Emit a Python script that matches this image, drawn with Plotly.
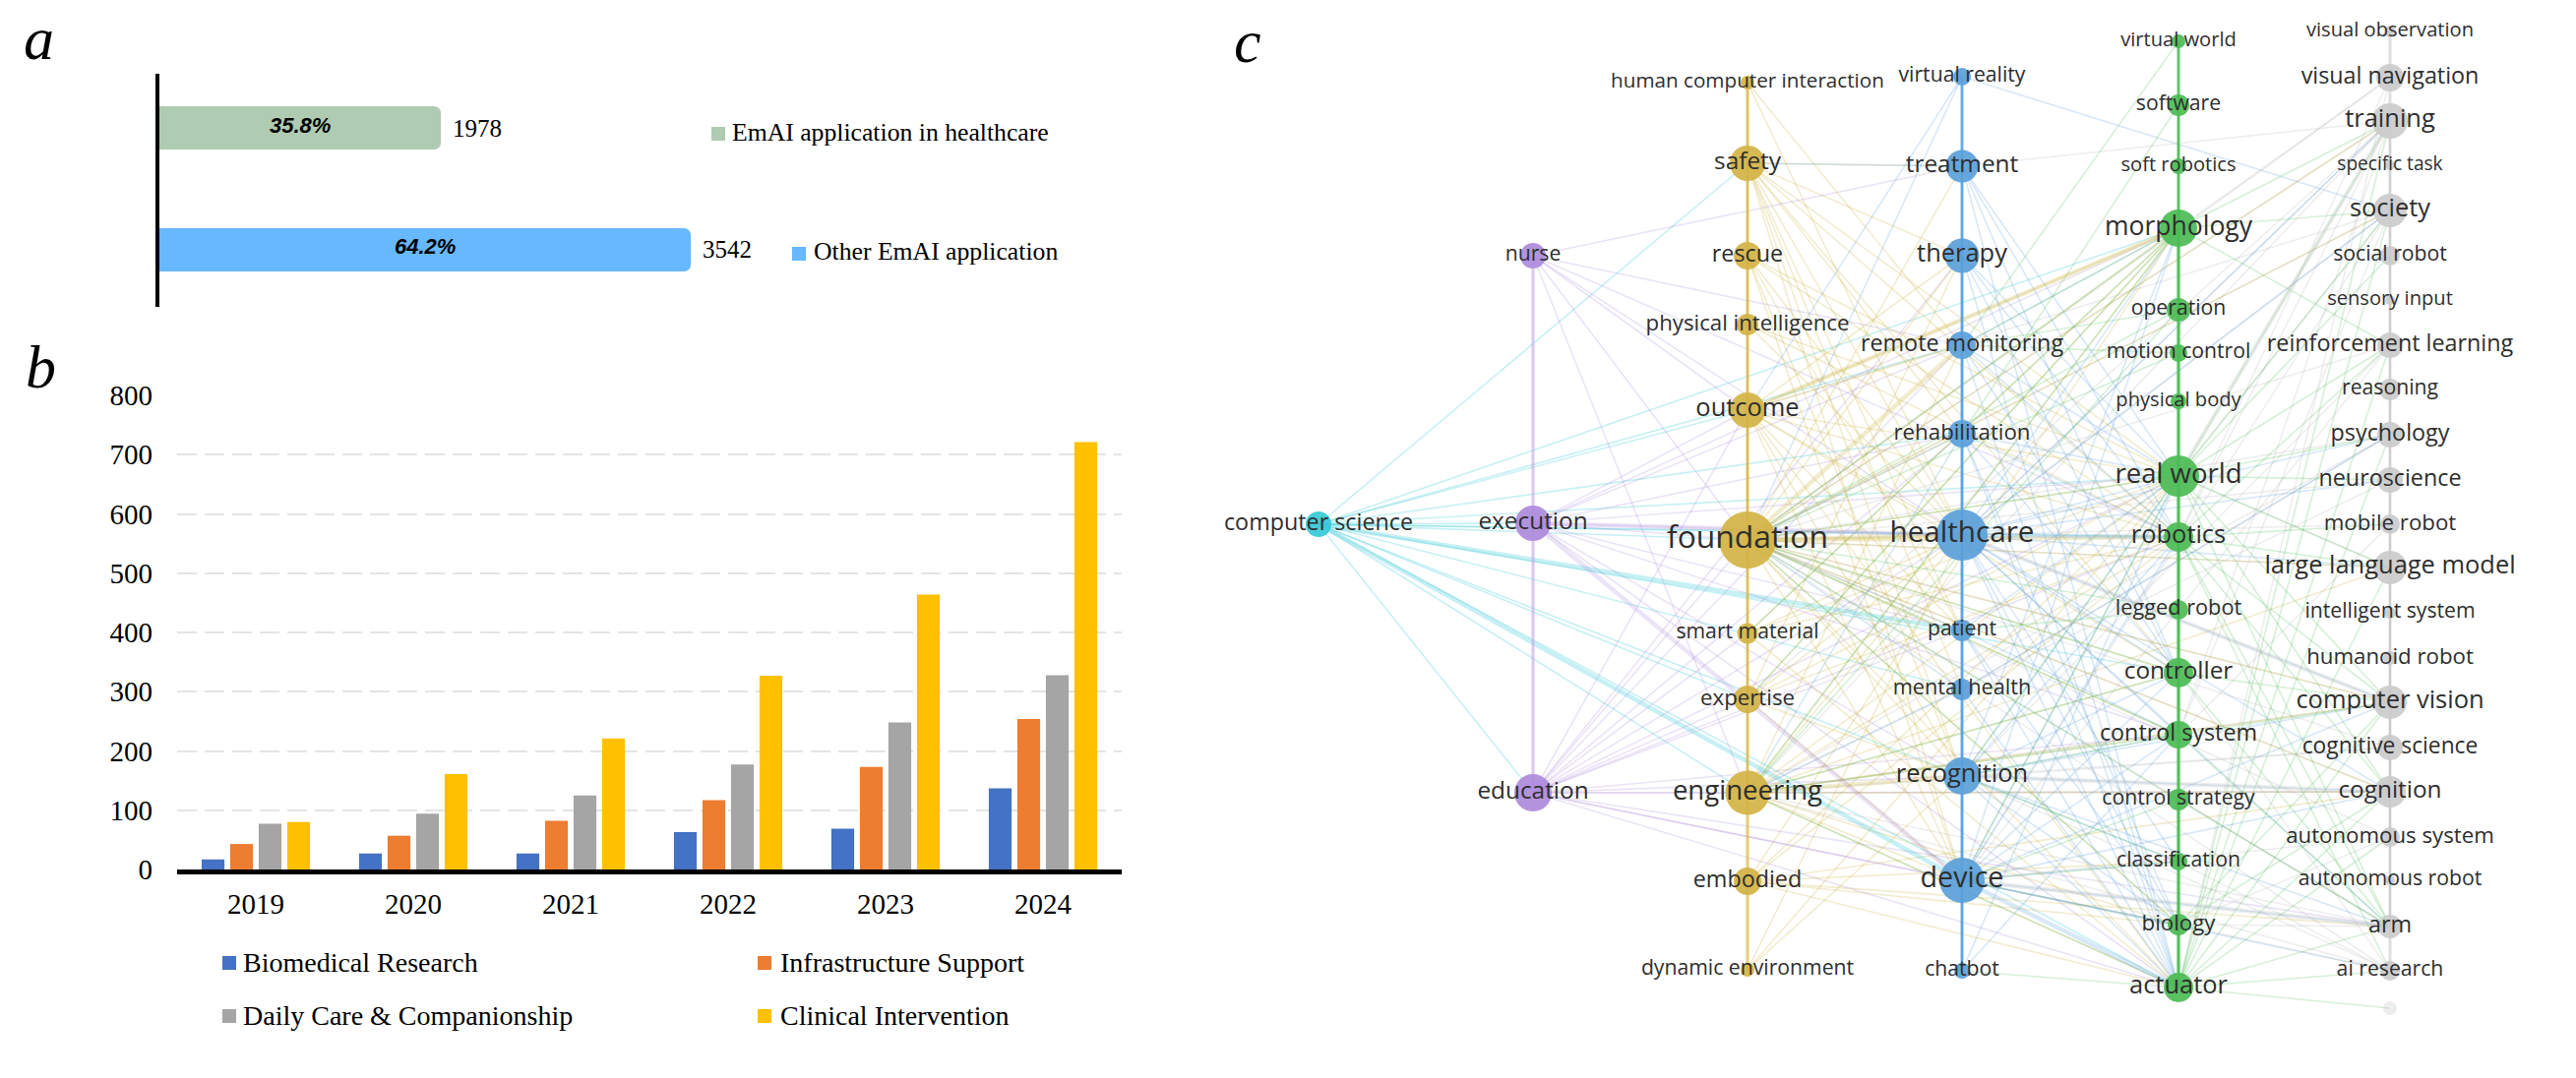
import plotly.graph_objects as go

W, H = 2618, 1096
SERIF = "Liberation Serif"

# ---- panel a
SHARE_NAMES = ["Other EmAI application", "EmAI application in healthcare"]
SHARE_COUNTS = [3542, 1978]
SHARE_PCT = ["64.2%", "35.8%"]
SHARE_COLORS = ["#66B8FF", "#AFCBB1"]

# ---- panel b
YEARS = ["2019", "2020", "2021", "2022", "2023", "2024"]
BIOMEDICAL = [17, 27, 27, 63, 69, 137]
INFRASTRUCTURE = [43, 57, 82, 117, 173, 254]
DAILY_CARE = [77, 94, 125, 177, 248, 328]
CLINICAL = [80, 161, 221, 327, 464, 721]
SERIES_NAMES = ["Biomedical Research", "Infrastructure Support", "Daily Care & Companionship", "Clinical Intervention"]
SERIES_COLORS = ["#4472C4", "#ED7D31", "#A5A5A5", "#FFC000"]

# ---- panel c: keyword network, one column per cluster
CYAN_NODES = ["computer science"]
CYAN_Y = [533]
CYAN_D = [26]
CYAN_F = [22]

PURPLE_NODES = ["nurse", "execution", "education"]
PURPLE_Y = [260, 532, 806]
PURPLE_D = [26, 36, 38]
PURPLE_F = [20, 23, 23]

YELLOW_NODES = ["human computer interaction", "safety", "rescue", "physical intelligence", "outcome", "foundation",
                "smart material", "expertise", "engineering", "embodied", "dynamic environment"]
YELLOW_Y = [84, 166, 260, 330, 417, 549, 644, 711, 806, 896, 986]
YELLOW_D = [14, 36, 28, 22, 36, 58, 21, 28, 45, 28, 14]
YELLOW_F = [19.5, 23, 22, 21, 24, 30, 20, 21, 26, 22, 20]

BLUE_NODES = ["virtual reality", "treatment", "therapy", "remote monitoring", "rehabilitation", "healthcare",
              "patient", "mental health", "recognition", "device", "chatbot"]
BLUE_Y = [78, 169, 260, 351, 441, 544, 641, 701, 789, 895, 987]
BLUE_D = [18, 33, 35, 28, 28, 52, 22, 22, 38, 46, 16]
BLUE_F = [20, 23, 24, 22, 21, 28, 20, 20.5, 24, 27, 20]

GREEN_NODES = ["virtual world", "software", "soft robotics", "morphology", "operation", "motion control",
               "physical body", "real world", "robotics", "legged robot", "controller", "control system",
               "control strategy", "classification", "biology", "actuator"]
GREEN_Y = [42, 107, 169, 232, 315, 359, 408, 484, 546, 620, 684, 747, 813, 876, 940, 1004]
GREEN_D = [14, 22, 16, 38, 24, 18, 16, 42, 30, 20, 30, 28, 22, 18, 22, 30]
GREEN_F = [19, 20, 19, 25, 20, 20, 19, 26, 24, 20.5, 23, 22, 20, 20, 21, 24]

GRAY_NODES = ["visual observation", "visual navigation", "training", "specific task", "society", "social robot",
              "sensory input", "reinforcement learning", "reasoning", "psychology", "neuroscience", "mobile robot",
              "large language model", "intelligent system", "humanoid robot", "computer vision", "cognitive science",
              "cognition", "autonomous system", "autonomous robot", "arm", "ai research", ""]
GRAY_Y = [32, 79, 123, 168, 214, 260, 305, 351, 396, 442, 488, 533, 577, 623, 669, 714, 760, 805, 851, 895, 942, 987, 1025]
GRAY_D = [12, 28, 36, 10, 34, 20, 10, 26, 22, 26, 26, 20, 34, 12, 14, 34, 26, 32, 20, 10, 24, 20, 14]
GRAY_F = [19, 22, 24, 18, 24, 20, 19, 22, 20, 22, 22, 21, 24, 20, 21, 24, 21.5, 23, 21, 20, 22, 20, 10]

CLUSTERS = [
    ("cyan", 1340, CYAN_NODES, CYAN_Y, CYAN_D, CYAN_F, "#35C9D6", "rgba(53,201,214,0.28)", "rgba(53,201,214,0.6)"),
    ("purple", 1558, PURPLE_NODES, PURPLE_Y, PURPLE_D, PURPLE_F, "#AC8ADB", "rgba(172,138,219,0.24)", "rgba(190,155,230,0.55)"),
    ("gray", 2429, GRAY_NODES, GRAY_Y, GRAY_D, GRAY_F, "#CBCBCB", "rgba(190,190,190,0.26)", "rgba(200,200,200,0.6)"),
    ("yellow", 1776, YELLOW_NODES, YELLOW_Y, YELLOW_D, YELLOW_F, "#D4B345", "rgba(205,180,70,0.26)", "rgba(222,185,70,0.75)"),
    ("blue", 1994, BLUE_NODES, BLUE_Y, BLUE_D, BLUE_F, "#5A9FD9", "rgba(90,160,220,0.24)", "rgba(90,165,230,0.85)"),
    ("green", 2214, GREEN_NODES, GREEN_Y, GREEN_D, GREEN_F, "#4CBB55", "rgba(90,195,100,0.25)", "rgba(76,190,85,0.85)"),
]

LINKS = {
    "computer science": ["safety", "outcome", "remote monitoring", "rehabilitation", "morphology", "real world",
                         "healthcare", "foundation", "execution", "robotics", "expertise", "mental health",
                         "recognition", "controller", "education", "actuator", "engineering"],
    "nurse": ["treatment", "outcome", "healthcare", "foundation", "robotics", "remote monitoring", "engineering"],
    "execution": ["outcome", "foundation", "healthcare", "morphology", "remote monitoring", "recognition", "patient",
                  "real world", "rehabilitation", "control system", "actuator"],
    "education": ["foundation", "outcome", "smart material", "expertise", "healthcare", "rehabilitation", "patient",
                  "recognition", "engineering", "device", "actuator", "arm", "real world", "control system",
                  "cognition", "biology", "therapy", "remote monitoring", "robotics"],
    "human computer interaction": ["rescue", "physical intelligence", "remote monitoring", "healthcare", "foundation"],
    "safety": ["treatment", "therapy", "healthcare", "foundation", "real world", "robotics", "device", "recognition",
               "rehabilitation", "patient", "controller", "mental health", "engineering"],
    "rescue": ["healthcare", "device", "recognition", "robotics", "real world", "foundation", "patient"],
    "physical intelligence": ["real world", "healthcare", "foundation", "robotics"],
    "outcome": ["healthcare", "morphology", "remote monitoring", "therapy", "device", "recognition", "real world",
                "robotics", "controller", "expertise", "patient", "actuator", "engineering"],
    "foundation": ["therapy", "rehabilitation", "morphology", "real world", "controller", "recognition", "device",
                   "actuator", "patient", "cognition", "computer vision", "large language model", "training",
                   "society", "biology", "control system", "treatment"],
    "smart material": ["actuator", "real world", "morphology", "robotics", "healthcare", "engineering"],
    "expertise": ["healthcare", "morphology", "real world", "device", "recognition", "robotics", "therapy"],
    "engineering": ["healthcare", "device", "morphology", "real world", "robotics", "controller", "control system",
                    "cognition", "computer vision", "actuator", "biology", "remote monitoring", "large language model"],
    "embodied": ["actuator", "biology", "robotics", "cognition", "morphology", "real world", "arm", "classification"],
    "dynamic environment": ["healthcare", "recognition", "real world"],
    "virtual reality": ["therapy", "remote monitoring", "society", "foundation", "rehabilitation", "outcome"],
    "treatment": ["safety", "healthcare", "robotics", "real world", "device", "actuator", "controller"],
    "therapy": ["healthcare", "real world", "actuator", "robotics", "controller", "device", "recognition"],
    "remote monitoring": ["morphology", "real world", "controller", "actuator", "device", "robotics", "chatbot"],
    "rehabilitation": ["foundation", "real world", "robotics", "device", "actuator", "biology", "controller", "engineering"],
    "healthcare": ["real world", "controller", "control system", "actuator", "biology", "computer vision",
                   "cognition", "large language model", "training", "society", "neuroscience", "psychology", "arm",
                   "chatbot", "classification", "morphology", "device"],
    "patient": ["foundation", "control system", "actuator", "real world", "biology", "recognition"],
    "mental health": ["chatbot", "foundation", "engineering", "psychology", "actuator", "device"],
    "recognition": ["computer vision", "cognition", "actuator", "controller", "control system", "robotics",
                    "morphology", "real world", "arm", "biology", "classification", "chatbot"],
    "device": ["biology", "robotics", "real world", "controller", "control system", "classification", "morphology",
               "arm", "chatbot", "rehabilitation", "therapy", "computer vision", "cognition", "ai research"],
    "chatbot": ["treatment", "healthcare", "remote monitoring", "real world", "control system", "therapy"],
    "virtual world": ["soft robotics", "morphology", "remote monitoring"],
    "software": ["morphology", "real world", "robotics", "rehabilitation"],
    "morphology": ["biology", "controller", "robotics", "real world", "foundation", "remote monitoring", "engineering",
                   "reinforcement learning", "training", "society", "control system", "expertise", "control strategy",
                   "smart material", "legged robot"],
    "operation": ["foundation", "real world", "remote monitoring", "actuator", "engineering"],
    "motion control": ["actuator", "foundation", "remote monitoring"],
    "real world": ["training", "society", "social robot", "reinforcement learning", "psychology", "neuroscience",
                   "large language model", "computer vision", "cognition", "foundation", "device", "recognition",
                   "actuator", "biology", "controller", "arm"],
    "robotics": ["large language model", "computer vision", "cognition", "arm", "actuator", "biology", "classification",
                 "reinforcement learning", "mobile robot", "ai research"],
    "legged robot": ["actuator", "foundation", "biology", "patient"],
    "controller": ["actuator", "biology", "foundation", "computer vision", "arm", "engineering", "classification"],
    "control system": ["actuator", "foundation", "engineering", "recognition", "arm", "computer vision"],
    "control strategy": ["actuator", "foundation", "device", "arm"],
    "classification": ["actuator", "recognition", "device"],
    "biology": ["actuator", "computer vision", "foundation", "device", "cognition"],
    "actuator": ["ai research", "", "arm", "cognition", "computer vision", "large language model", "society",
                 "training", "reinforcement learning", "engineering", "chatbot", "psychology", "autonomous system"],
    "training": ["treatment", "foundation", "robotics", "healthcare", "engineering", "cognition", "arm", "computer vision",
                 "expertise", "control system"],
    "society": ["real world", "healthcare", "device", "foundation", "outcome", "computer vision", "control system"],
    "visual navigation": ["morphology", "foundation", "actuator", "robotics"],
    "reinforcement learning": ["foundation", "device", "recognition"],
    "computer vision": ["foundation", "engineering", "arm", "cognition", "autonomous system"],
    "cognition": ["engineering", "foundation", "arm", "autonomous system"],
    "arm": ["foundation", "engineering", "biology", "control strategy"],
    "large language model": ["foundation", "real world", "cognition", "arm"],
    "ai research": ["foundation", "engineering", "biology", "controller", "recognition", "classification"],
    "neuroscience": ["foundation", "engineering"],
    "psychology": ["foundation", "engineering", "mental health"],
    "cognitive science": ["foundation", "engineering", "recognition"],
    "mobile robot": ["foundation", "control system"],
    "autonomous system": ["foundation", "device", "biology"],
}
STRONG_LINKS = [
    ("computer science", "patient"), ("computer science", "device"), ("execution", "device"), ("foundation", "healthcare"),
    ("foundation", "robotics"), ("engineering", "recognition"), ("outcome", "morphology"), ("foundation", "remote monitoring"),
    ("morphology", "actuator"), ("healthcare", "robotics"), ("device", "actuator"), ("execution", "healthcare"),
    ("cognition", "recognition"), ("computer vision", "healthcare"), ("arm", "device"), ("training", "real world"),
]

# ---- page helpers
def px(x):
    return x / W

def py(y):
    return 1 - y / H

fig = go.Figure()

# ---- panel a traces
SCALE_START = 216
SCALE_END = 216 + 1038 / 0.1624
fig.add_trace(go.Bar(y=SHARE_NAMES, x=SHARE_COUNTS, orientation="h", marker=dict(color=SHARE_COLORS, cornerradius=7),
                     width=0.355, xaxis="x", yaxis="y", showlegend=False))

# ---- panel b traces
for name, vals, col in zip(SERIES_NAMES, [BIOMEDICAL, INFRASTRUCTURE, DAILY_CARE, CLINICAL], SERIES_COLORS):
    fig.add_trace(go.Bar(x=YEARS, y=vals, name=name, marker_color=col, xaxis="x2", yaxis="y2", showlegend=False))

# ---- panel c traces
POS = {}
COLOR_OF = {}
for cname, cx, names, ys, ds, fs, col, thin, spine in CLUSTERS:
    for n, y in zip(names, ys):
        POS[n] = (cx, y)
        COLOR_OF[n] = cname

def segs(pairs):
    xs, ys = [], []
    for a, b in pairs:
        xs += [POS[a][0], POS[b][0], None]
        ys += [POS[a][1], POS[b][1], None]
    return xs, ys

for cname, cx, names, ys, ds, fs, col, thin, spine in CLUSTERS:
    pairs = [(a, b) for a, tg in LINKS.items() if COLOR_OF[a] == cname for b in tg]
    sx, sy = segs(pairs)
    fig.add_trace(go.Scatter(x=sx, y=sy, mode="lines", line=dict(color=thin, width=1.6), hoverinfo="skip",
                             xaxis="x3", yaxis="y3", showlegend=False))
for cname, cx, names, ys, ds, fs, col, thin, spine in CLUSTERS:
    pairs = [(a, b) for a, b in STRONG_LINKS if COLOR_OF[a] == cname]
    if pairs:
        sx, sy = segs(pairs)
        fig.add_trace(go.Scatter(x=sx, y=sy, mode="lines", line=dict(color=thin, width=4.5), hoverinfo="skip",
                                 xaxis="x3", yaxis="y3", showlegend=False))
    if len(names) > 1:
        chain = [(a, b) for a, b in zip(names[:-1], names[1:]) if b]
        sx, sy = segs(chain)
        fig.add_trace(go.Scatter(x=sx, y=sy, mode="lines", line=dict(color=spine, width=3), hoverinfo="skip",
                                 xaxis="x3", yaxis="y3", showlegend=False))
for cname, cx, names, ys, ds, fs, col, thin, spine in CLUSTERS:
    fig.add_trace(go.Scatter(x=[cx] * len(names), y=ys, mode="markers+text", text=names, textposition="middle center",
                             marker=dict(size=ds, color=col, opacity=[0.92 if n else 0.35 for n in names], line=dict(width=0)),
                             textfont=dict(family="Open Sans", size=[f * 1.06 for f in fs], color="#2E2E2E"), cliponaxis=False,
                             xaxis="x3", yaxis="y3", name=cname, showlegend=False, hoverinfo="text"))

# ---- annotations and legend keys
ann = []
def label(x, y, text, size, anchor="left", family=SERIF, color="black", **kw):
    ann.append(dict(x=px(x), y=py(y), xref="paper", yref="paper", text=text, showarrow=False, xanchor=anchor,
                    yanchor="middle", font=dict(family=family, size=size, color=color, **kw)))

label(22, 39, "a", 62, style="italic")
label(24, 373, "b", 62, style="italic")
label(1252, 42, "c", 62, style="italic")

for name, count, pct in zip(SHARE_NAMES, SHARE_COUNTS, SHARE_PCT):
    ann.append(dict(x=count, y=name, xref="x", yref="y", text=str(count), showarrow=False, xanchor="left", xshift=10,
                    font=dict(family=SERIF, size=25, color="black")))
    ann.append(dict(x=(SCALE_START + count) / 2, y=name, xref="x", yref="y", text=pct, showarrow=False, yshift=3,
                    font=dict(family="Liberation Sans", size=22, color="black", weight="bold", style="italic")))

shapes = []
def key(x, y, color):
    shapes.append(dict(type="rect", xref="paper", yref="paper", x0=px(x), x1=px(x + 14), y0=py(y - 7), y1=py(y + 7),
                       fillcolor=color, line=dict(width=0)))

key(723, 136, SHARE_COLORS[1]); label(742, 134, SHARE_NAMES[1], 25.7)
key(805, 258, SHARE_COLORS[0]); label(825, 256, SHARE_NAMES[0], 25.7)
key(226, 979, SERIES_COLORS[0]); label(245, 978, SERIES_NAMES[0], 28)
key(770, 979, SERIES_COLORS[1]); label(791, 978, SERIES_NAMES[1], 28)
key(226, 1033, SERIES_COLORS[2]); label(245, 1032, SERIES_NAMES[2], 28)
key(770, 1033, SERIES_COLORS[3]); label(791, 1032, SERIES_NAMES[3], 28)

fig.update_layout(
    template="none",
    width=W, height=H, margin=dict(l=0, r=0, t=0, b=0, pad=0), paper_bgcolor="white", plot_bgcolor="white",
    barmode="group", bargap=0.275, bargroupgap=0.2, annotations=ann, shapes=shapes,
    xaxis=dict(domain=[px(162), px(1200)], range=[SCALE_START, SCALE_END], visible=False, automargin=False),
    yaxis=dict(domain=[py(312), py(75)], range=[-0.468, 1.444], anchor="x", type="category", automargin=False,
               showline=True, linecolor="black", linewidth=4, showticklabels=False, ticks="", showgrid=False, zeroline=False),
    xaxis2=dict(domain=[px(180), px(1140)], anchor="y2", type="category", showline=True, linecolor="black", linewidth=5, automargin=False,
                ticks="", ticklabelstandoff=5, tickfont=dict(family=SERIF, size=29, color="black"), showgrid=False),
    yaxis2=dict(domain=[py(884), py(402)], anchor="x2", range=[0, 800], dtick=100, ticks="", ticklabelstandoff=24, automargin=False,
                tickfont=dict(family=SERIF, size=29, color="black"), showgrid=True, gridcolor="#E4E4E4", gridwidth=2,
                griddash="20px,8px", zeroline=False, showline=False),
    xaxis3=dict(domain=[px(1240), 1], range=[1240, W], visible=False, automargin=False),
    yaxis3=dict(domain=[0, 1], range=[H, 0], anchor="x3", visible=False, automargin=False),
)

fig.write_html("out.html", post_script="document.body.style.margin='0';", config={"displayModeBar": False})
